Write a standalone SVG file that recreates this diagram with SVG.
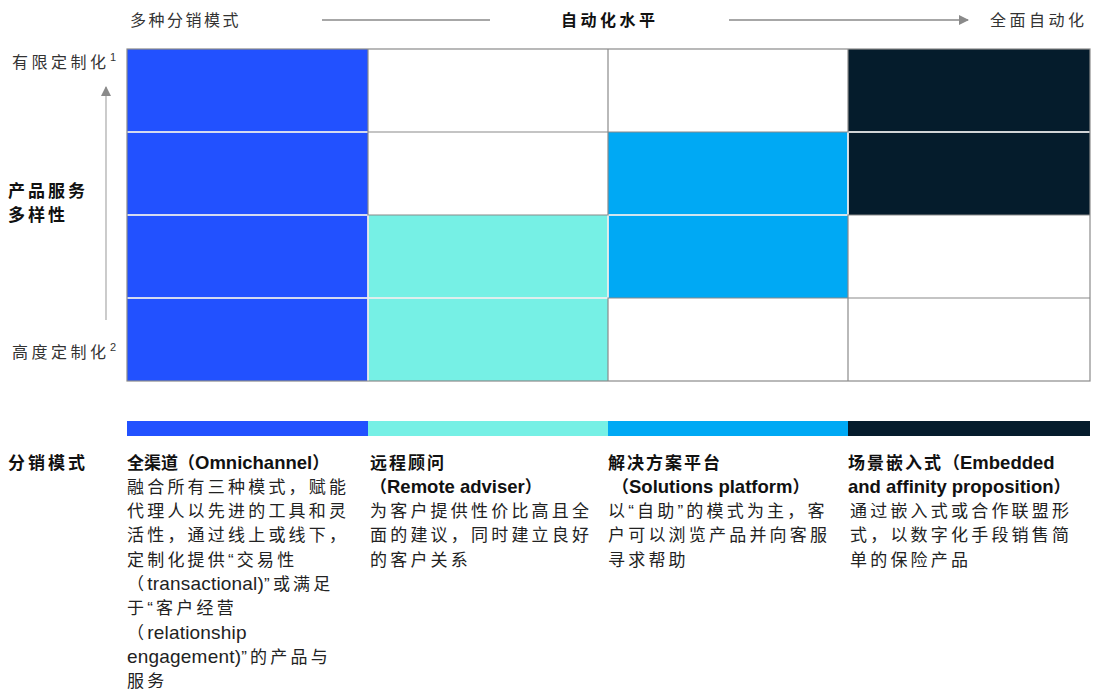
<svg xmlns="http://www.w3.org/2000/svg" width="1098" height="691" viewBox="0 0 1098 691">
<defs>
<style>
text{font-family:"Liberation Sans","Noto Sans CJK SC",sans-serif;fill:#222;}
.hd{font-size:16px;letter-spacing:2.5px;fill:#333;}
.hdb{font-size:16px;letter-spacing:3.5px;font-weight:bold;fill:#111;}
.lab{font-size:16px;letter-spacing:3.5px;fill:#333;}
.sup{font-size:11px;letter-spacing:0;fill:#333;}
.lb{font-size:17px;letter-spacing:3px;font-weight:bold;fill:#111;}
.t{font-size:17px;letter-spacing:3.2px;fill:#222;}
.tt{font-size:17px;font-weight:bold;fill:#111;}
.tl{font-size:18.5px;}
.lat{letter-spacing:0.2px;font-size:19px;}
.gl{stroke:#8a8a8a;stroke-width:1.2;fill:none;}
.wl{stroke:#ffffff;stroke-width:1.5;fill:none;}
.ax{stroke:#8a8a8a;stroke-width:1.3;fill:none;}
</style>
<marker id="ah" viewBox="0 0 10 10" refX="9" refY="5" markerWidth="10" markerHeight="10" markerUnits="userSpaceOnUse" orient="auto">
<path d="M0,0 L10,5 L0,10 Z" fill="#8a8a8a"/>
</marker>
</defs>
<rect width="1098" height="691" fill="#ffffff"/>

<g id="header">
<text class="hd" x="130" y="26">多种分销模式</text>
<text class="hdb" x="561" y="26">自动化水平</text>
<text class="hd" x="990" y="26" style="letter-spacing:3.5px">全面自动化</text>
</g>

<g id="y-axis-labels">
<text class="lab" x="12" y="68">有限定制化</text>
<text class="sup" x="110" y="61">1</text>
<text class="lb" x="8" y="197">产品服务</text>
<text class="lb" x="8" y="221">多样性</text>
<text class="lab" x="12" y="358">高度定制化</text>
<text class="sup" x="110" y="351">2</text>
</g>

<g id="connectors">
<line class="ax" x1="322" y1="20" x2="490" y2="20"/>
<line class="ax" x1="729" y1="20" x2="968" y2="20" marker-end="url(#ah)"/>
<line class="ax" x1="106" y1="320" x2="106" y2="87" marker-end="url(#ah)" style="stroke:#b0b0b0"/>
</g>

<g id="matrix">
<g id="cells">
<rect x="127" y="49" width="241" height="332" fill="#2251FF"/>
<rect x="848" y="49" width="242" height="166" fill="#051C2C"/>
<rect x="608" y="132" width="240" height="166" fill="#00A9F4"/>
<rect x="368" y="215" width="240" height="166" fill="#76F0E5"/>
</g>
<g id="grid-lines">
<rect class="gl" x="127" y="49" width="963" height="332"/>
<line class="gl" x1="368" y1="49" x2="368" y2="381"/>
<line class="gl" x1="608" y1="49" x2="608" y2="381"/>
<line class="gl" x1="848" y1="49" x2="848" y2="381"/>
<line class="gl" x1="127" y1="132" x2="1090" y2="132"/>
<line class="gl" x1="127" y1="215" x2="1090" y2="215"/>
<line class="gl" x1="127" y1="298" x2="1090" y2="298"/>
</g>
<g id="separators">
<line class="wl" x1="127.6" y1="132" x2="367.4" y2="132"/>
<line class="wl" x1="127.6" y1="215" x2="367.4" y2="215"/>
<line class="wl" x1="127.6" y1="298" x2="367.4" y2="298"/>
<line class="wl" x1="848.6" y1="132" x2="1089.4" y2="132"/>
<line class="wl" x1="608.6" y1="215" x2="847.4" y2="215"/>
<line class="wl" x1="368.6" y1="298" x2="607.4" y2="298"/>
<line class="wl" x1="368" y1="215.6" x2="368" y2="380.4"/>
<line class="wl" x1="608" y1="215.6" x2="608" y2="297.4"/>
<line class="wl" x1="848" y1="132.6" x2="848" y2="214.4"/>
</g>
</g>

<g id="legend-bars">
<rect x="127" y="421" width="241" height="15" fill="#2251FF"/>
<rect x="368" y="421" width="240" height="15" fill="#76F0E5"/>
<rect x="608" y="421" width="240" height="15" fill="#00A9F4"/>
<rect x="848" y="421" width="242" height="15" fill="#051C2C"/>
</g>

<g id="legend-label">
<text class="lb" x="8" y="469">分销模式</text>
</g>

<g id="omnichannel">
<text class="tt" x="127" y="469">全渠道（<tspan class="tl">Omnichannel</tspan>）</text>
<text class="t" x="127" y="493">融合所有三种模式，赋能</text>
<text class="t" x="127" y="517">代理人以先进的工具和灵</text>
<text class="t" x="127" y="541">活性，通过线上或线下，</text>
<text class="t" x="127" y="566">定制化提供“交易性</text>
<text class="t" x="127" y="590">（<tspan class="lat">transactional)</tspan>”或满足</text>
<text class="t" x="127" y="614">于“客户经营</text>
<text class="t" x="127" y="639">（<tspan class="lat">relationship</tspan></text>
<text class="t" x="127" y="663"><tspan class="lat">engagement)</tspan>”的产品与</text>
<text class="t" x="127" y="687">服务</text>
</g>

<g id="remote-adviser">
<text class="tt" x="370" y="469" style="letter-spacing:2px">远程顾问</text>
<text class="tt" x="370" y="493">（<tspan class="tl">Remote adviser</tspan>）</text>
<text class="t" x="370" y="517">为客户提供性价比高且全</text>
<text class="t" x="370" y="541">面的建议，同时建立良好</text>
<text class="t" x="370" y="566">的客户关系</text>
</g>

<g id="solutions-platform">
<text class="tt" x="608" y="469" style="letter-spacing:2px">解决方案平台</text>
<text class="tt" x="612" y="493">（<tspan class="tl">Solutions platform</tspan>）</text>
<text class="t" x="608" y="517">以“自助”的模式为主，客</text>
<text class="t" x="608" y="541">户可以浏览产品并向客服</text>
<text class="t" x="608" y="566">寻求帮助</text>
</g>

<g id="embedded">
<text class="tt" x="848" y="469"><tspan style="letter-spacing:2px">场景嵌入式</tspan>（<tspan class="tl">Embedded</tspan></text>
<text class="tt" x="848" y="493"><tspan class="tl">and affinity proposition</tspan>）</text>
<text class="t" x="850" y="517">通过嵌入式或合作联盟形</text>
<text class="t" x="850" y="541">式，以数字化手段销售简</text>
<text class="t" x="850" y="566">单的保险产品</text>
</g>
</svg>
